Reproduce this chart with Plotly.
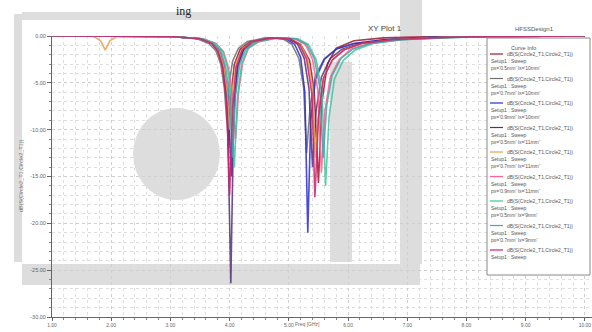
import plotly.graph_objects as go

# ---- data ----
curve_line1 = "dB(S(Circle2_T1,Circle2_T1))"
curve_line2 = "Setup1 : Sweep"
curve_params = ["px='0.5mm' lx='10mm'", "px='0.7mm' lx='10mm'", "px='0.9mm' lx='10mm'",
                "px='0.5mm' lx='11mm'", "px='0.7mm' lx='11mm'", "px='0.9mm' lx='11mm'",
                "px='0.5mm' lx='9mm'", "px='0.7mm' lx='9mm'", ""]
colors = ["#9b1b30", "#707070", "#2b2bd0", "#55307a", "#e8a050",
          "#ff5f8f", "#3fc79a", "#4aa3b0", "#d0206a"]

freq_1 = [1.0, 3.0, 3.5, 3.7, 3.8, 3.88, 3.94, 3.98, 4.02, 4.08, 4.18, 4.35, 4.7, 5.0, 5.2, 5.35, 5.43, 5.5, 5.56, 5.65, 5.8, 6.1, 6.6, 7.5, 10.0]
s11_1 = [0, -0.05, -0.3, -0.8, -1.6, -3.2, -6.5, -12.0, -6.5, -3.0, -1.4, -0.6, -0.2, -0.3, -0.9, -2.6, -6.0, -15.7, -7.0, -3.0, -1.3, -0.5, -0.2, -0.05, 0]

freq_2 = [1.0, 3.0, 3.45, 3.65, 3.77, 3.85, 3.91, 3.95, 3.99, 4.05, 4.15, 4.3, 4.6, 4.9, 5.05, 5.17, 5.25, 5.30, 5.36, 5.45, 5.6, 5.8, 6.1, 6.6, 7.4, 8.4, 10.0]
s11_2 = [0, -0.05, -0.3, -0.8, -1.6, -3.0, -5.5, -9.0, -5.2, -2.7, -1.3, -0.6, -0.2, -0.3, -0.9, -2.4, -5.5, -12.5, -7.5, -4.2, -2.4, -1.4, -0.8, -0.4, -0.15, -0.05, 0]

freq_3 = [1.0, 3.0, 3.5, 3.7, 3.82, 3.9, 3.97, 4.03, 4.08, 4.14, 4.24, 4.4, 4.7, 4.95, 5.1, 5.2, 5.27, 5.32, 5.37, 5.45, 5.6, 5.8, 6.1, 6.6, 7.4, 8.4, 10.0]
s11_3 = [0, -0.05, -0.3, -0.7, -1.5, -3.0, -6.5, -15.0, -7.0, -3.2, -1.4, -0.6, -0.2, -0.3, -0.9, -2.3, -6.0, -21.0, -9.0, -4.6, -2.5, -1.4, -0.8, -0.4, -0.15, -0.05, 0]

freq_4 = [1.0, 3.0, 3.5, 3.7, 3.82, 3.9, 3.96, 4.02, 4.07, 4.13, 4.23, 4.4, 4.7, 5.0, 5.15, 5.26, 5.34, 5.40, 5.46, 5.55, 5.7, 5.9, 6.2, 6.7, 7.5, 8.5, 10.0]
s11_4 = [0, -0.05, -0.3, -0.8, -1.6, -3.2, -7.0, -26.4, -8.0, -3.4, -1.5, -0.6, -0.2, -0.3, -0.9, -2.4, -5.6, -14.0, -8.0, -4.4, -2.4, -1.4, -0.8, -0.4, -0.15, -0.05, 0]

freq_5 = [1.0, 1.7, 1.82, 1.9, 1.98, 2.1, 3.0, 3.5, 3.7, 3.82, 3.9, 3.96, 4.00, 4.05, 4.12, 4.22, 4.4, 4.7, 5.05, 5.2, 5.32, 5.4, 5.45, 5.51, 5.6, 5.75, 5.95, 6.25, 6.75, 7.6, 8.5, 10.0]
s11_5 = [0, -0.05, -0.5, -1.5, -0.5, -0.05, -0.05, -0.3, -0.8, -1.6, -3.2, -6.0, -10.0, -5.5, -2.7, -1.3, -0.6, -0.2, -0.3, -0.9, -2.5, -5.5, -13.0, -7.5, -4.2, -2.4, -1.4, -0.8, -0.4, -0.15, -0.05, 0]

freq_6 = [1.0, 3.0, 3.55, 3.77, 3.9, 3.98, 4.05, 4.10, 4.15, 4.22, 4.32, 4.5, 4.8, 5.1, 5.28, 5.4, 5.49, 5.55, 5.61, 5.7, 5.85, 6.05, 6.35, 6.85, 7.7, 8.6, 10.0]
s11_6 = [0, -0.05, -0.3, -0.8, -1.7, -3.4, -6.5, -11.0, -6.0, -2.9, -1.3, -0.6, -0.2, -0.3, -0.9, -2.5, -5.8, -14.6, -8.0, -4.4, -2.5, -1.4, -0.8, -0.4, -0.15, -0.05, 0]

freq_7 = [1.0, 3.0, 3.55, 3.75, 3.88, 3.96, 4.03, 4.08, 4.13, 4.2, 4.3, 4.48, 4.8, 5.15, 5.33, 5.46, 5.56, 5.62, 5.68, 5.77, 5.92, 6.12, 6.42, 6.92, 7.8, 8.7, 10.0]
s11_7 = [0, -0.05, -0.3, -0.8, -1.6, -3.2, -6.8, -14.0, -6.8, -3.1, -1.4, -0.6, -0.2, -0.3, -0.9, -2.5, -6.0, -16.0, -8.6, -4.6, -2.6, -1.5, -0.8, -0.4, -0.15, -0.05, 0]

freq_8 = [1.0, 3.0, 3.52, 3.72, 3.85, 3.93, 4.0, 4.05, 4.1, 4.17, 4.27, 4.45, 4.75, 5.12, 5.3, 5.43, 5.52, 5.58, 5.64, 5.73, 5.88, 6.08, 6.38, 6.88, 7.75, 8.6, 10.0]
s11_8 = [0, -0.05, -0.3, -0.8, -1.6, -3.2, -6.6, -13.0, -6.4, -3.0, -1.4, -0.6, -0.2, -0.3, -0.9, -2.4, -5.4, -13.0, -7.4, -4.2, -2.4, -1.4, -0.8, -0.4, -0.15, -0.05, 0]

freq_9 = [1.0, 3.0, 3.5, 3.7, 3.8, 3.88, 3.95, 4.00, 4.05, 4.11, 4.21, 4.38, 4.7, 5.02, 5.18, 5.3, 5.39, 5.44, 5.5, 5.58, 5.73, 5.93, 6.23, 6.73, 7.6, 8.5, 10.0]
s11_9 = [0, -0.05, -0.3, -0.8, -1.6, -3.3, -7.2, -17.0, -7.6, -3.3, -1.5, -0.6, -0.2, -0.3, -0.9, -2.5, -6.2, -17.2, -8.8, -4.6, -2.6, -1.5, -0.8, -0.4, -0.15, -0.05, 0]

freqs = [freq_1, freq_2, freq_3, freq_4, freq_5, freq_6, freq_7, freq_8, freq_9]
s11s = [s11_1, s11_2, s11_3, s11_4, s11_5, s11_6, s11_7, s11_8, s11_9]

x_ticks = [1, 2, 3, 4, 5, 6, 7, 8, 9, 10]
x_tick_labels = ["1.00", "2.00", "3.00", "4.00", "5.00", "6.00", "7.00", "8.00", "9.00", "10.00"]
y_ticks = [0, -5, -10, -15, -20, -25, -30]
y_tick_labels = ["0.00", "-5.00", "-10.00", "-15.00", "-20.00", "-25.00", "-30.00"]

W, H = 592, 332
L, R, T, B = 52, 0, 36, 15
PW, PH = W - L - R, H - T - B


def px(xp):
    return (xp - L) / PW


def py(yp):
    return (H - B - yp) / PH


fig = go.Figure()
for f, s, c in zip(freqs, s11s, colors):
    fig.add_trace(go.Scatter(x=f, y=s, mode="lines", showlegend=False, hoverinfo="skip",
                             line=dict(color=c, width=1.6), opacity=0.85))

band = "rgba(210,210,210,0.75)"


def prect(x0, y0, x1, y1, fill, line=None, layer="below"):
    d = dict(type="rect", xref="paper", yref="paper", x0=px(x0), x1=px(x1),
             y0=py(y1), y1=py(y0), fillcolor=fill, layer=layer)
    if line:
        d["line"] = dict(color=line, width=1)
    else:
        d["line"] = dict(width=0)
    return d


shapes = [
    prect(14, 14, 22, 262, band),
    prect(22, 264, 420, 285, band),
    prect(22, 12, 360, 20, band),
    prect(330, 62, 352, 262, band),
    prect(400, 0, 422, 264, band),
    dict(type="circle", xref="paper", yref="paper", x0=px(133), x1=px(220),
         y0=py(200), y1=py(108), fillcolor=band, line_width=0, layer="below"),
    # legend box
    prect(487, 38, 590, 275, "white", line="#8a8a8a", layer="above"),
]

annotations = [
    dict(text="XY Plot 1", x=px(385), y=py(22), xref="paper", yref="paper",
         showarrow=False, font=dict(size=8, color="#444")),
    dict(text="HFSSDesign1", x=px(556), y=py(24), xref="paper", yref="paper",
         showarrow=False, font=dict(size=6, color="#555")),
    dict(text="ing", x=px(174), y=py(2), xref="paper", yref="paper",
         showarrow=False, font=dict(size=12, color="#222", family="Liberation Serif")),
    dict(text="Freq [GHz]", x=px(307), y=py(329), xref="paper", yref="paper",
         showarrow=False, font=dict(size=5, color="#666")),
    dict(text="dB(S(Circle2_T1,Circle2_T1))", x=px(16), y=py(176), xref="paper", yref="paper",
         showarrow=False, textangle=-90, font=dict(size=5.5, color="#777")),
    dict(text="Curve Info", x=px(538), y=py(43), xref="paper", yref="paper",
         showarrow=False, font=dict(size=5.5, color="#555")),
]

entry_top = 54
entry_step = 24.5
for i, (c, p) in enumerate(zip(colors, curve_params)):
    y0 = entry_top + i * entry_step
    shapes.append(dict(type="line", xref="paper", yref="paper",
                       x0=px(490), x1=px(503), y0=py(y0), y1=py(y0),
                       line=dict(color=c, width=1.2)))
    lines = [curve_line1, curve_line2] + ([p] if p else [])
    for k, t in enumerate(lines):
        annotations.append(dict(text=t, x=px(505 if k == 0 else 489), y=py(y0 + k * 7.2),
                                xref="paper", yref="paper", xanchor="left", yanchor="middle",
                                showarrow=False, font=dict(size=5, color="#555")))

fig.update_layout(
    width=W, height=H,
    margin=dict(l=L, r=R, t=T, b=B),
    paper_bgcolor="white", plot_bgcolor="rgba(0,0,0,0)",
    font=dict(family="Liberation Sans, Arial", size=6, color="#555"),
    shapes=shapes,
    annotations=annotations,
    showlegend=False,
    xaxis=dict(range=[1, 10.12], tickvals=x_ticks, ticktext=x_tick_labels,
               showline=True, linecolor="#666", linewidth=1, ticks="outside", ticklen=3,
               tickcolor="#666", zeroline=False,
               showgrid=True, gridcolor="#cfcfcf", griddash="dot", gridwidth=1,
               minor=dict(dtick=0.2, showgrid=True, gridcolor="#dedede", griddash="dot",
                          ticks="outside", ticklen=2, tickcolor="#888"),
               tickfont=dict(size=5, color="#666")),
    yaxis=dict(range=[-30, 0], tickvals=y_ticks, ticktext=y_tick_labels,
               showline=True, linecolor="#666", linewidth=1, ticks="outside", ticklen=4,
               tickcolor="#666", zeroline=False,
               showgrid=True, gridcolor="#cfcfcf", griddash="dot", gridwidth=1,
               minor=dict(dtick=1, showgrid=True, gridcolor="#dedede", griddash="dot",
                          ticks="outside", ticklen=2, tickcolor="#888"),
               tickfont=dict(size=5.5, color="#666")),
)

fig.write_html("out.html", config={"displayModeBar": False},
               post_script="document.body.style.margin='0';")
